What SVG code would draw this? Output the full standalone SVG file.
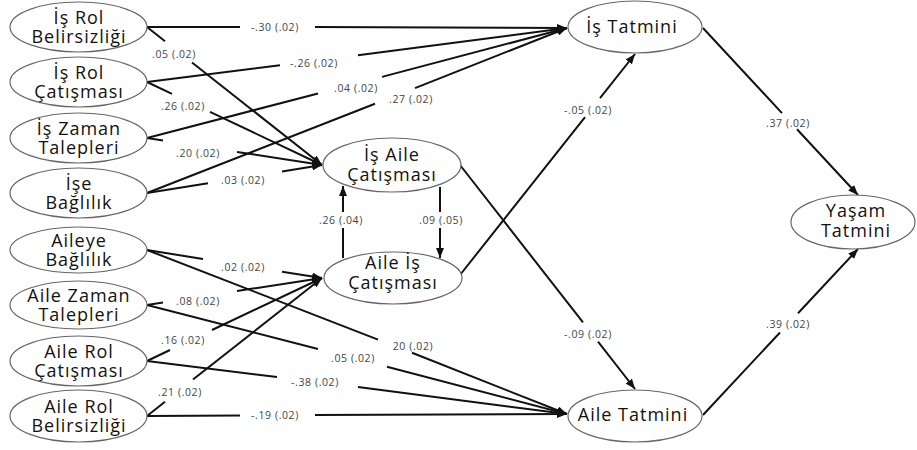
<svg xmlns="http://www.w3.org/2000/svg" width="917" height="450" viewBox="0 0 917 450">
<defs>
<marker id="arr" viewBox="0 0 10 8" refX="10" refY="4" markerWidth="10" markerHeight="8" markerUnits="userSpaceOnUse" orient="auto"><path d="M0,0 L10,4 L0,8 Z" fill="#111"/></marker>
</defs>
<style>
.n ellipse{fill:#fff;stroke:#666;stroke-width:1.2}
.n text{font-family:"Open Sans","DejaVu Sans",sans-serif;font-size:18px;letter-spacing:1px;fill:#111;text-anchor:middle}
.e path{fill:none;stroke:#111;stroke-width:2;marker-end:url(#arr)}
.l text{font-family:"Open Sans","DejaVu Sans",sans-serif;font-size:10.5px;letter-spacing:0.6px;fill:#444;text-anchor:middle}
</style>
<rect width="917" height="450" fill="#fff"/>
<g class="e" id="connectors">
<path d="M147,27 L240,27 M315,27 L567,28"/>
<path d="M147,27 L165,41.2 M192,62.5 L322,165"/>
<path d="M147,82 L280,65.2 M358,55.3 L567,28"/>
<path d="M147,82 L172,93.9 M210,111.9 L322,165"/>
<path d="M147,138 L318,93.5 M382,76.9 L567,28"/>
<path d="M147,138 L163,140.5 M237,151.9 L322,165"/>
<path d="M147,193 L375,103.8 M415,88.1 L567,28"/>
<path d="M147,193 L208,183.2 M282,171.4 L322,165"/>
<path d="M147,250 L203,259 M282,271.7 L322,278"/>
<path d="M147,250 L378,339.6 M412,352.8 L567,414"/>
<path d="M147,305 L318,349 M387,366.7 L567,414"/>
<path d="M147,305 L163,302.5 M237,291 L322,278"/>
<path d="M147,361 L170,350 M212,330 L322,278"/>
<path d="M147,361 L277,377.1 M358,387.1 L567,414"/>
<path d="M147,416 L165,401.7 M193,379.5 L322,278"/>
<path d="M147,416 L240,415.5 M315,415 L567,414"/>
<path d="M343,258 L343,228 M343,212 L343,186"/>
<path d="M440,187 L440,212 M440,228 L440,258"/>
<path d="M460,165 L583,322.4 M598,341.6 L635,389"/>
<path d="M460,275 L585,117.1 M600,98.2 L635,54"/>
<path d="M703,28 L782,113.1 M797,129.3 L858,195"/>
<path d="M703,415 L780,332.5 M798,313.3 L858,249"/>
</g>
<g class="l" id="labels">
<text x="275" y="31">-.30 (.02)</text>
<text x="174" y="58">.05 (.02)</text>
<text x="314" y="67">-.26 (.02)</text>
<text x="183" y="110">.26 (.02)</text>
<text x="356" y="92">.04 (.02)</text>
<text x="198" y="157">.20 (.02)</text>
<text x="411" y="103">.27 (.02)</text>
<text x="243" y="184">.03 (.02)</text>
<text x="243" y="271">.02 (.02)</text>
<text x="413" y="350">20 (.02)</text>
<text x="353" y="362">.05 (.02)</text>
<text x="198" y="305">.08 (.02)</text>
<text x="183" y="344">.16 (.02)</text>
<text x="315" y="386">-.38 (.02)</text>
<text x="180" y="396">.21 (.02)</text>
<text x="275" y="419">-.19 (.02)</text>
<text x="341" y="224">.26 (.04)</text>
<text x="441" y="224">.09 (.05)</text>
<text x="588" y="338">-.09 (.02)</text>
<text x="588" y="114">-.05 (.02)</text>
<text x="788" y="127">.37 (.02)</text>
<text x="788" y="328">.39 (.02)</text>
</g>
<g class="n" id="is_rol_belirsizligi"><ellipse cx="78.5" cy="27" rx="68.5" ry="25"/><text x="79" y="24">İş Rol</text><text x="79" y="43">Belirsizliği</text></g>
<g class="n" id="is_rol_catismasi"><ellipse cx="78.5" cy="82" rx="68.5" ry="25"/><text x="79" y="79">İş Rol</text><text x="79" y="98">Çatışması</text></g>
<g class="n" id="is_zaman_talepleri"><ellipse cx="78.5" cy="138" rx="68.5" ry="25"/><text x="79" y="135">İş Zaman</text><text x="79" y="154">Talepleri</text></g>
<g class="n" id="ise_baglilik"><ellipse cx="78.5" cy="193" rx="68.5" ry="25"/><text x="79" y="190">İşe</text><text x="79" y="209">Bağlılık</text></g>
<g class="n" id="aileye_baglilik"><ellipse cx="78.5" cy="250" rx="68.5" ry="23"/><text x="79" y="247">Aileye</text><text x="79" y="266">Bağlılık</text></g>
<g class="n" id="aile_zaman_talepleri"><ellipse cx="78.5" cy="305" rx="68.5" ry="24"/><text x="79" y="302">Aile Zaman</text><text x="79" y="321">Talepleri</text></g>
<g class="n" id="aile_rol_catismasi"><ellipse cx="78.5" cy="361" rx="68.5" ry="25"/><text x="79" y="358">Aile Rol</text><text x="79" y="377">Çatışması</text></g>
<g class="n" id="aile_rol_belirsizligi"><ellipse cx="78.5" cy="416" rx="68.5" ry="26"/><text x="79" y="413">Aile Rol</text><text x="79" y="432">Belirsizliği</text></g>
<g class="n" id="is_aile_catismasi"><ellipse cx="392" cy="165" rx="69" ry="27"/><text x="392" y="161">İş Aile</text><text x="392" y="181">Çatışması</text></g>
<g class="n" id="aile_is_catismasi"><ellipse cx="393" cy="278" rx="69" ry="26"/><text x="393" y="269">Aile İş</text><text x="393" y="289">Çatışması</text></g>
<g class="n" id="is_tatmini"><ellipse cx="635" cy="27" rx="67" ry="26"/><text x="632" y="33">İş Tatmini</text></g>
<g class="n" id="aile_tatmini"><ellipse cx="635" cy="416" rx="67" ry="26"/><text x="633" y="421">Aile Tatmini</text></g>
<g class="n" id="yasam_tatmini"><ellipse cx="853" cy="222" rx="62" ry="27"/><text x="856" y="217">Yaşam</text><text x="856" y="237">Tatmini</text></g>
</svg>
